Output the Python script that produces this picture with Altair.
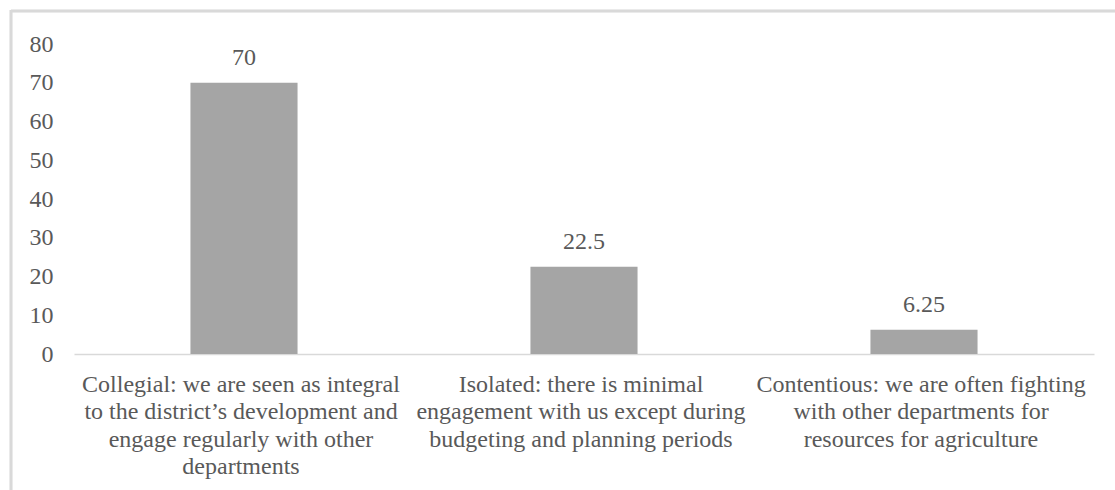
import altair as alt
import pandas as pd

categories = [
    "Collegial: we are seen as integral\nto the district\u2019s development and\nengage regularly with other\ndepartments",
    "Isolated: there is minimal\nengagement with us except during\nbudgeting and planning periods",
    "Contentious: we are often fighting\nwith other departments for\nresources for agriculture",
]
values = [70, 22.5, 6.25]
value_labels = ["70", "22.5", "6.25"]

df = pd.DataFrame({"category": categories, "value": values, "label": value_labels})

FONT = "Liberation Serif"
TEXT = "#595959"
FS = 24
W, H = 1020, 310

xscale = alt.Scale(paddingInner=0.685, paddingOuter=0.3425)
yscale = alt.Scale(domain=[0, 80])

x = alt.X(
    "category:N",
    sort=categories,
    title=None,
    scale=xscale,
    axis=alt.Axis(
        labelAngle=0,
        ticks=False,
        domain=True,
        domainColor="#D9D9D9",
        domainWidth=1.5,
        labelExpr="split(datum.label, '\\n')",
        labelFont=FONT,
        labelFontSize=FS,
        labelColor=TEXT,
        labelPadding=18,
        labelLineHeight=27.5,
        labelLimit=400,
        labelOverlap=False,
        labelOffset=-3,
    ),
)
y = alt.Y(
    "value:Q",
    title=None,
    scale=yscale,
    axis=alt.Axis(
        values=list(range(0, 81, 10)),
        grid=False,
        domain=False,
        ticks=False,
        labelFont=FONT,
        labelFontSize=FS,
        labelColor=TEXT,
        labelPadding=21,
        labelOverlap=False,
    ),
)

bars = alt.Chart(df).mark_bar(color="#A5A5A5").encode(x=x, y=y)
text = alt.Chart(df).mark_text(
    font=FONT, fontSize=FS, color=TEXT, dy=-13, baseline="bottom"
).encode(x=x, y=y, text="label:N")

frame_top = alt.Chart(df).mark_rule(color="#D9D9D9", strokeWidth=2.5).encode(
    x=alt.value(-63), x2=alt.value(W + 60), y=alt.value(-33)
)
frame_left = alt.Chart(df).mark_rule(color="#D9D9D9", strokeWidth=2.5).encode(
    x=alt.value(-63), y=alt.value(-34), y2=alt.value(H + 200)
)

chart = (
    alt.layer(frame_top, frame_left, bars, text)
    .properties(
        width=W,
        height=H,
        autosize=alt.AutoSizeParams(type="none"),
        padding={"left": 74, "top": 44, "right": 21, "bottom": 136},
        background="white",
    )
    .configure_view(stroke=None)
    .configure_axis(labelFont=FONT, labelFontSize=FS, labelColor=TEXT, labelOverlap=False)
)

chart.save("out.html", embed_options={"renderer": "svg", "actions": False})
